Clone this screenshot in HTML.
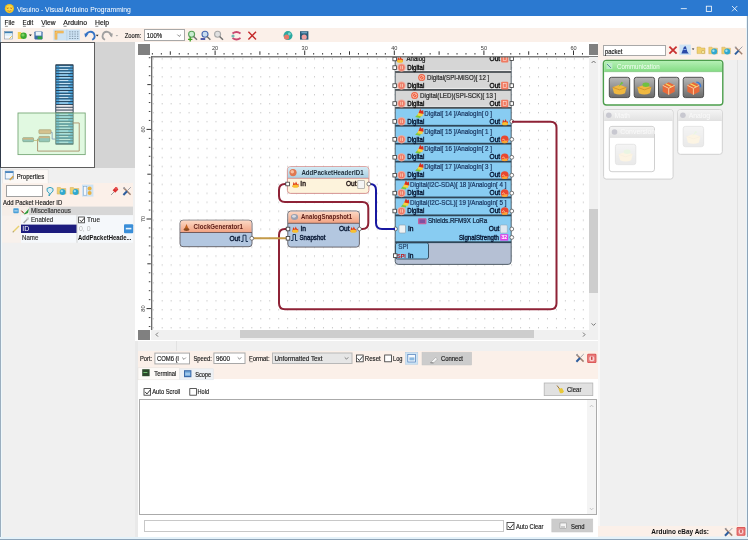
<!DOCTYPE html>
<html><head><meta charset="utf-8">
<style>
*{margin:0;padding:0;box-sizing:border-box}
svg{will-change:transform}
html,body{width:748px;height:540px;overflow:hidden;background:#f0f0f0;font-family:"Liberation Sans",sans-serif;color:#000}
.a{position:absolute}
.t{position:absolute;white-space:nowrap;line-height:1}
</style></head><body>
<!-- window border -->
<div class="a" style="left:0;top:0;width:748px;height:540px;background:#f0f0f0"></div>

<!-- title bar -->
<div class="a" style="left:0;top:0;width:748px;height:16.4px;background:#2b79d0"></div>

<!-- menu bar -->
<div class="a" style="left:1px;top:16.4px;width:745px;height:11.6px;background:#fff"></div>

<!-- toolbar -->
<div class="a" style="left:1px;top:28px;width:745px;height:14px;background:#fbf0e9"></div>
<div class="a" style="left:144.2px;top:29.3px;width:40.6px;height:12.1px;background:#fff;border:1px solid #a8a8a8"></div>

<!-- left panel -->
<div class="a" style="left:0;top:42px;width:95px;height:126px;background:#fff;border:1px solid #5e5e5e;border-left-color:#2e3848"></div>
<div class="a" style="left:95px;top:42px;width:40px;height:126px;background:#d4d4d4"></div>

<!-- properties -->
<div class="a" style="left:2px;top:183px;width:131px;height:24px;background:#fbf0e9"></div>
<div class="a" style="left:6px;top:185.2px;width:37px;height:11.5px;background:#fff;border:1px solid #a0a0a0"></div>

<!-- canvas area -->
<div class="a" style="left:135px;top:42px;width:463px;height:299px;background:#fff"></div>
<div class="a" style="left:137.5px;top:44px;width:12.5px;height:10.5px;background:#808080"></div>
<div class="a" style="left:137.5px;top:330px;width:12.5px;height:10px;background:#808080"></div>
<div class="a" style="left:588.5px;top:44px;width:10.5px;height:10.5px;background:#808080"></div>
<svg width="0" height="0" style="position:absolute"><defs>
<linearGradient id="hdrblue" x1="0" y1="0" x2="0" y2="1"><stop offset="0" stop-color="#d4eaf4"/><stop offset="1" stop-color="#a8d0e4"/></linearGradient>
<linearGradient id="grnhdr" x1="0" y1="0" x2="0" y2="1"><stop offset="0" stop-color="#b4f0b4"/><stop offset="1" stop-color="#84dc84"/></linearGradient>
<linearGradient id="grayhdr" x1="0" y1="0" x2="0" y2="1"><stop offset="0" stop-color="#f4f4f4"/><stop offset="1" stop-color="#e2e2e2"/></linearGradient>
<linearGradient id="tilebg" x1="0" y1="0" x2="0" y2="1"><stop offset="0" stop-color="#b8b8b8"/><stop offset="1" stop-color="#6a6a6a"/></linearGradient>
<linearGradient id="hdrsal" x1="0" y1="0" x2="0" y2="1"><stop offset="0" stop-color="#fcd8c4"/><stop offset="1" stop-color="#f2a282"/></linearGradient>
</defs></svg>
<svg class="a" style="left:0;top:0" width="748" height="540" viewBox="0 0 748 540" font-family="Liberation Sans, sans-serif">
<defs>
<clipPath id="cv"><rect x="152" y="57" width="437" height="273"/></clipPath>
<pattern id="gd" patternUnits="userSpaceOnUse" x="161.7" y="58.2" width="8.96" height="8.96"><rect x="0" y="0" width="1" height="1.4" fill="#cacaca"/></pattern>
</defs>
<rect x="152" y="57" width="437" height="273" fill="url(#gd)"/>
<rect x="151.88" y="53" width="1" height="1.6" fill="#444"/>
<rect x="160.84" y="53" width="1" height="1.6" fill="#444"/>
<rect x="169.80" y="51.3" width="1" height="3.5" fill="#333"/>
<rect x="178.76" y="53" width="1" height="1.6" fill="#444"/>
<rect x="187.72" y="53" width="1" height="1.6" fill="#444"/>
<rect x="196.68" y="53" width="1" height="1.6" fill="#444"/>
<rect x="205.64" y="53" width="1" height="1.6" fill="#444"/>
<rect x="214.60" y="50.5" width="1" height="4.5" fill="#333"/>
<text x="215.10" y="49.8" font-size="5.6" text-anchor="middle" fill="#3a3a3a">20</text>
<rect x="223.56" y="53" width="1" height="1.6" fill="#444"/>
<rect x="232.52" y="53" width="1" height="1.6" fill="#444"/>
<rect x="241.48" y="53" width="1" height="1.6" fill="#444"/>
<rect x="250.44" y="53" width="1" height="1.6" fill="#444"/>
<rect x="259.40" y="51.3" width="1" height="3.5" fill="#333"/>
<rect x="268.36" y="53" width="1" height="1.6" fill="#444"/>
<rect x="277.32" y="53" width="1" height="1.6" fill="#444"/>
<rect x="286.28" y="53" width="1" height="1.6" fill="#444"/>
<rect x="295.24" y="53" width="1" height="1.6" fill="#444"/>
<rect x="304.20" y="50.5" width="1" height="4.5" fill="#333"/>
<text x="304.70" y="49.8" font-size="5.6" text-anchor="middle" fill="#3a3a3a">30</text>
<rect x="313.16" y="53" width="1" height="1.6" fill="#444"/>
<rect x="322.12" y="53" width="1" height="1.6" fill="#444"/>
<rect x="331.08" y="53" width="1" height="1.6" fill="#444"/>
<rect x="340.04" y="53" width="1" height="1.6" fill="#444"/>
<rect x="349.00" y="51.3" width="1" height="3.5" fill="#333"/>
<rect x="357.96" y="53" width="1" height="1.6" fill="#444"/>
<rect x="366.92" y="53" width="1" height="1.6" fill="#444"/>
<rect x="375.88" y="53" width="1" height="1.6" fill="#444"/>
<rect x="384.84" y="53" width="1" height="1.6" fill="#444"/>
<rect x="393.80" y="50.5" width="1" height="4.5" fill="#333"/>
<text x="394.30" y="49.8" font-size="5.6" text-anchor="middle" fill="#3a3a3a">40</text>
<rect x="402.76" y="53" width="1" height="1.6" fill="#444"/>
<rect x="411.72" y="53" width="1" height="1.6" fill="#444"/>
<rect x="420.68" y="53" width="1" height="1.6" fill="#444"/>
<rect x="429.64" y="53" width="1" height="1.6" fill="#444"/>
<rect x="438.60" y="51.3" width="1" height="3.5" fill="#333"/>
<rect x="447.56" y="53" width="1" height="1.6" fill="#444"/>
<rect x="456.52" y="53" width="1" height="1.6" fill="#444"/>
<rect x="465.48" y="53" width="1" height="1.6" fill="#444"/>
<rect x="474.44" y="53" width="1" height="1.6" fill="#444"/>
<rect x="483.40" y="50.5" width="1" height="4.5" fill="#333"/>
<text x="483.90" y="49.8" font-size="5.6" text-anchor="middle" fill="#3a3a3a">50</text>
<rect x="492.36" y="53" width="1" height="1.6" fill="#444"/>
<rect x="501.32" y="53" width="1" height="1.6" fill="#444"/>
<rect x="510.28" y="53" width="1" height="1.6" fill="#444"/>
<rect x="519.24" y="53" width="1" height="1.6" fill="#444"/>
<rect x="528.20" y="51.3" width="1" height="3.5" fill="#333"/>
<rect x="537.16" y="53" width="1" height="1.6" fill="#444"/>
<rect x="546.12" y="53" width="1" height="1.6" fill="#444"/>
<rect x="555.08" y="53" width="1" height="1.6" fill="#444"/>
<rect x="564.04" y="53" width="1" height="1.6" fill="#444"/>
<rect x="573.00" y="50.5" width="1" height="4.5" fill="#333"/>
<text x="573.50" y="49.8" font-size="5.6" text-anchor="middle" fill="#3a3a3a">60</text>
<rect x="581.96" y="53" width="1" height="1.6" fill="#444"/>
<rect x="148.8" y="57.22" width="1.6" height="1" fill="#444"/>
<rect x="148.8" y="66.18" width="1.6" height="1" fill="#444"/>
<rect x="148.8" y="75.14" width="1.6" height="1" fill="#444"/>
<rect x="147.3" y="84.10" width="3.5" height="1" fill="#333"/>
<rect x="148.8" y="93.06" width="1.6" height="1" fill="#444"/>
<rect x="148.8" y="102.02" width="1.6" height="1" fill="#444"/>
<rect x="148.8" y="110.98" width="1.6" height="1" fill="#444"/>
<rect x="148.8" y="119.94" width="1.6" height="1" fill="#444"/>
<rect x="146.5" y="128.90" width="4.5" height="1" fill="#333"/>
<text transform="translate(145,129.40) rotate(-90)" x="0" y="0" font-size="5.6" text-anchor="middle" fill="#3a3a3a">60</text>
<rect x="148.8" y="137.86" width="1.6" height="1" fill="#444"/>
<rect x="148.8" y="146.82" width="1.6" height="1" fill="#444"/>
<rect x="148.8" y="155.78" width="1.6" height="1" fill="#444"/>
<rect x="148.8" y="164.74" width="1.6" height="1" fill="#444"/>
<rect x="147.3" y="173.70" width="3.5" height="1" fill="#333"/>
<rect x="148.8" y="182.66" width="1.6" height="1" fill="#444"/>
<rect x="148.8" y="191.62" width="1.6" height="1" fill="#444"/>
<rect x="148.8" y="200.58" width="1.6" height="1" fill="#444"/>
<rect x="148.8" y="209.54" width="1.6" height="1" fill="#444"/>
<rect x="146.5" y="218.50" width="4.5" height="1" fill="#333"/>
<text transform="translate(145,219.00) rotate(-90)" x="0" y="0" font-size="5.6" text-anchor="middle" fill="#3a3a3a">70</text>
<rect x="148.8" y="227.46" width="1.6" height="1" fill="#444"/>
<rect x="148.8" y="236.42" width="1.6" height="1" fill="#444"/>
<rect x="148.8" y="245.38" width="1.6" height="1" fill="#444"/>
<rect x="148.8" y="254.34" width="1.6" height="1" fill="#444"/>
<rect x="147.3" y="263.30" width="3.5" height="1" fill="#333"/>
<rect x="148.8" y="272.26" width="1.6" height="1" fill="#444"/>
<rect x="148.8" y="281.22" width="1.6" height="1" fill="#444"/>
<rect x="148.8" y="290.18" width="1.6" height="1" fill="#444"/>
<rect x="148.8" y="299.14" width="1.6" height="1" fill="#444"/>
<rect x="146.5" y="308.10" width="4.5" height="1" fill="#333"/>
<text transform="translate(145,308.60) rotate(-90)" x="0" y="0" font-size="5.6" text-anchor="middle" fill="#3a3a3a">80</text>
<rect x="148.8" y="317.06" width="1.6" height="1" fill="#444"/>
<rect x="148.8" y="326.02" width="1.6" height="1" fill="#444"/>
<g clip-path="url(#cv)">
<rect x="395.2" y="20" width="116.0" height="52.0" fill="#d6d6d6"/>
<rect x="395.2" y="72.00" width="116.0" height="17.92" fill="#d6d6d6"/>
<rect x="395.2" y="89.92" width="116.0" height="17.92" fill="#d6d6d6"/>
<rect x="395.2" y="107.84" width="116.0" height="17.92" fill="#88ccf2"/>
<rect x="395.2" y="125.76" width="116.0" height="17.92" fill="#88ccf2"/>
<rect x="395.2" y="143.68" width="116.0" height="17.92" fill="#88ccf2"/>
<rect x="395.2" y="161.60" width="116.0" height="17.92" fill="#88ccf2"/>
<rect x="395.2" y="179.52" width="116.0" height="17.92" fill="#88ccf2"/>
<rect x="395.2" y="197.44" width="116.0" height="17.92" fill="#88ccf2"/>
<rect x="395.2" y="215.36" width="116.0" height="26.84" fill="#88ccf2"/>
<path d="M395.2,242.2 H511.2 V261.4 q0,3 -3,3 H398.2 q-3,0 -3,-3 Z" fill="#b5c0d4"/>
<rect x="395.5" y="242.8" width="33" height="16.2" rx="2" fill="#88ccf2" stroke="#2f4658" stroke-width="0.9"/>
<path d="M395.2,20 V261.4 q0,3 3,3 H508.2 q3,0 3,-3 V20" fill="none" stroke="#46525c" stroke-width="0.9"/>
<rect x="395.2" y="70.00" width="116.0" height="1" fill="#ececec"/>
<rect x="395.2" y="71.10" width="116.0" height="1.8" fill="#4c5256"/>
<rect x="395.2" y="87.92" width="116.0" height="1" fill="#ececec"/>
<rect x="395.2" y="89.02" width="116.0" height="1.8" fill="#4c5256"/>
<rect x="395.2" y="105.84" width="116.0" height="1" fill="#ececec"/>
<rect x="395.2" y="106.94" width="116.0" height="1.8" fill="#4c5256"/>
<rect x="395.2" y="124.86" width="116.0" height="1.8" fill="#2f4658"/>
<rect x="395.2" y="142.78" width="116.0" height="1.8" fill="#2f4658"/>
<rect x="395.2" y="160.70" width="116.0" height="1.8" fill="#2f4658"/>
<rect x="395.2" y="178.62" width="116.0" height="1.8" fill="#2f4658"/>
<rect x="395.2" y="196.54" width="116.0" height="1.8" fill="#2f4658"/>
<rect x="395.2" y="214.46" width="116.0" height="1.8" fill="#2f4658"/>
<rect x="395.2" y="241.3" width="116.0" height="1.8" fill="#2f4658"/>
<path d="M397.00,62.00 l1,-5 l1.5,2 l1,-2.5 l1.5,3 l1,-1 l0,3.5 z" fill="#e03818"/><ellipse cx="400.00" cy="61.20" rx="3" ry="1.6" fill="#f8c030"/>
<text x="406.50" y="61.30" font-size="7.0" fill="#141414" stroke="#141414" stroke-width="0.22" text-anchor="start" font-weight="normal"  textLength="19.0" lengthAdjust="spacingAndGlyphs">Analog</text>
<text x="500.20" y="60.50" font-size="7.0" fill="#141414" stroke="#141414" stroke-width="0.4" text-anchor="end" font-weight="normal"  textLength="10.6" lengthAdjust="spacingAndGlyphs">Out</text>
<rect x="501.10" y="54.80" width="7.2" height="7.6" rx="1" fill="#f07a60"/><rect x="503.20" y="56.60" width="3" height="4" fill="none" stroke="#fff" stroke-width="0.6" opacity="0.8"/>
<rect x="392.90" y="57.20" width="3.6" height="3.6" fill="#fff" stroke="#383838" stroke-width="0.8"/>
<rect x="510.00" y="56.80" width="3.6" height="3.6" fill="#fff" stroke="#383838" stroke-width="0.8"/>
<circle cx="401.50" cy="67.60" r="4.1" fill="#f2a898"/><circle cx="401.50" cy="67.60" r="3.1" fill="#ec7866"/><rect x="400.20" y="65.80" width="1" height="3.4" fill="#f8c0a8"/><rect x="402.00" y="65.80" width="1" height="3.4" fill="#f8c0a8"/>
<text x="407.30" y="69.80" font-size="7.0" fill="#141414" stroke="#141414" stroke-width="0.4" text-anchor="start" font-weight="normal"  textLength="17.0" lengthAdjust="spacingAndGlyphs">Digital</text>
<rect x="392.90" y="65.80" width="3.6" height="3.6" fill="#fff" stroke="#383838" stroke-width="0.8"/>
<circle cx="421.69" cy="77.60" r="3.5" fill="#f06040"/><circle cx="421.69" cy="77.60" r="2.2" fill="none" stroke="#fbd0c0" stroke-width="0.7"/><line x1="420.19" y1="79.10" x2="423.19" y2="76.10" stroke="#fbd0c0" stroke-width="0.7"/>
<text x="427.09" y="79.80" font-size="7.0" fill="#2e2e2e" stroke="#2e2e2e" stroke-width="0.22" text-anchor="start" font-weight="normal" textLength="62.2" lengthAdjust="spacingAndGlyphs">Digital(SPI-MISO)[ 12 ]</text>
<circle cx="401.50" cy="85.60" r="4.1" fill="#f2a898"/><circle cx="401.50" cy="85.60" r="3.1" fill="#ec7866"/><rect x="400.20" y="83.80" width="1" height="3.4" fill="#f8c0a8"/><rect x="402.00" y="83.80" width="1" height="3.4" fill="#f8c0a8"/>
<text x="407.30" y="87.80" font-size="7.0" fill="#161616" stroke="#161616" stroke-width="0.4" text-anchor="start" font-weight="normal"  textLength="17.0" lengthAdjust="spacingAndGlyphs">Digital</text>
<text x="500.20" y="87.80" font-size="7.0" fill="#161616" stroke="#161616" stroke-width="0.4" text-anchor="end" font-weight="normal"  textLength="10.6" lengthAdjust="spacingAndGlyphs">Out</text>
<rect x="501.10" y="81.80" width="7.2" height="7.6" rx="1" fill="#f07a60"/><rect x="503.20" y="83.60" width="3" height="4" fill="none" stroke="#fff" stroke-width="0.6" opacity="0.8"/>
<rect x="392.90" y="83.80" width="3.6" height="3.6" fill="#fff" stroke="#383838" stroke-width="0.8"/>
<rect x="510.00" y="83.80" width="3.6" height="3.6" fill="#fff" stroke="#383838" stroke-width="0.8"/>
<circle cx="414.65" cy="95.52" r="3.5" fill="#f06040"/><circle cx="414.65" cy="95.52" r="2.2" fill="none" stroke="#fbd0c0" stroke-width="0.7"/><line x1="413.15" y1="97.02" x2="416.15" y2="94.02" stroke="#fbd0c0" stroke-width="0.7"/>
<text x="420.05" y="97.72" font-size="7.0" fill="#2e2e2e" stroke="#2e2e2e" stroke-width="0.22" text-anchor="start" font-weight="normal" textLength="76.3" lengthAdjust="spacingAndGlyphs">Digital(LED)(SPI-SCK)[ 13 ]</text>
<circle cx="401.50" cy="103.52" r="4.1" fill="#f2a898"/><circle cx="401.50" cy="103.52" r="3.1" fill="#ec7866"/><rect x="400.20" y="101.72" width="1" height="3.4" fill="#f8c0a8"/><rect x="402.00" y="101.72" width="1" height="3.4" fill="#f8c0a8"/>
<text x="407.30" y="105.72" font-size="7.0" fill="#161616" stroke="#161616" stroke-width="0.4" text-anchor="start" font-weight="normal"  textLength="17.0" lengthAdjust="spacingAndGlyphs">Digital</text>
<text x="500.20" y="105.72" font-size="7.0" fill="#161616" stroke="#161616" stroke-width="0.4" text-anchor="end" font-weight="normal"  textLength="10.6" lengthAdjust="spacingAndGlyphs">Out</text>
<rect x="501.10" y="99.72" width="7.2" height="7.6" rx="1" fill="#f07a60"/><rect x="503.20" y="101.52" width="3" height="4" fill="none" stroke="#fff" stroke-width="0.6" opacity="0.8"/>
<rect x="392.90" y="101.72" width="3.6" height="3.6" fill="#fff" stroke="#383838" stroke-width="0.8"/>
<rect x="510.00" y="101.72" width="3.6" height="3.6" fill="#fff" stroke="#383838" stroke-width="0.8"/>
<path d="M415.14,116.94 l3,-3 l3,1 l-1,3 z" fill="#7cc83c"/><path d="M417.14,115.44 l2,-4 l4,2 l-1,3 z" fill="#f8d040"/><path d="M418.64,112.94 l1.5,-4 l1.5,2 l1.5,-1 l0.5,4 z" fill="#d83020"/>
<text x="424.34" y="115.64" font-size="7.0" fill="#1c3862" stroke="#1c3862" stroke-width="0.22" text-anchor="start" font-weight="normal" textLength="67.7" lengthAdjust="spacingAndGlyphs">Digital[ 14 ]/AnalogIn[ 0 ]</text>
<circle cx="401.50" cy="121.44" r="4.1" fill="#f2a898"/><circle cx="401.50" cy="121.44" r="3.1" fill="#ec7866"/><rect x="400.20" y="119.64" width="1" height="3.4" fill="#f8c0a8"/><rect x="402.00" y="119.64" width="1" height="3.4" fill="#f8c0a8"/>
<text x="407.30" y="123.64" font-size="7.0" fill="#0a1a36" stroke="#0a1a36" stroke-width="0.4" text-anchor="start" font-weight="normal"  textLength="17.0" lengthAdjust="spacingAndGlyphs">Digital</text>
<text x="500.20" y="123.64" font-size="7.0" fill="#0a1a36" stroke="#0a1a36" stroke-width="0.4" text-anchor="end" font-weight="normal"  textLength="10.6" lengthAdjust="spacingAndGlyphs">Out</text>
<path d="M502.00,124.44 l1,-5 l1.5,2 l1,-2.5 l1.5,3 l1,-1 l0,3.5 z" fill="#e03818"/><ellipse cx="505.00" cy="123.64" rx="3" ry="1.6" fill="#f8c030"/>
<rect x="392.90" y="119.64" width="3.6" height="3.6" fill="#fff" stroke="#383838" stroke-width="0.8"/>
<circle cx="511.80" cy="121.44" r="1.9" fill="#fff" stroke="#4a4a4a" stroke-width="0.7"/>
<path d="M415.14,134.86 l3,-3 l3,1 l-1,3 z" fill="#7cc83c"/><path d="M417.14,133.36 l2,-4 l4,2 l-1,3 z" fill="#f8d040"/><path d="M418.64,130.86 l1.5,-4 l1.5,2 l1.5,-1 l0.5,4 z" fill="#d83020"/>
<text x="424.34" y="133.56" font-size="7.0" fill="#1c3862" stroke="#1c3862" stroke-width="0.22" text-anchor="start" font-weight="normal" textLength="67.7" lengthAdjust="spacingAndGlyphs">Digital[ 15 ]/AnalogIn[ 1 ]</text>
<circle cx="401.50" cy="139.36" r="4.1" fill="#f2a898"/><circle cx="401.50" cy="139.36" r="3.1" fill="#ec7866"/><rect x="400.20" y="137.56" width="1" height="3.4" fill="#f8c0a8"/><rect x="402.00" y="137.56" width="1" height="3.4" fill="#f8c0a8"/>
<text x="407.30" y="141.56" font-size="7.0" fill="#0a1a36" stroke="#0a1a36" stroke-width="0.4" text-anchor="start" font-weight="normal"  textLength="17.0" lengthAdjust="spacingAndGlyphs">Digital</text>
<text x="500.20" y="141.56" font-size="7.0" fill="#0a1a36" stroke="#0a1a36" stroke-width="0.4" text-anchor="end" font-weight="normal"  textLength="10.6" lengthAdjust="spacingAndGlyphs">Out</text>
<circle cx="504.70" cy="139.36" r="3.9" fill="#e84830"/><path d="M502.20,140.36 q1.2,-3 2.5,0 t2.5,0" fill="none" stroke="#ffd0a0" stroke-width="0.8"/><ellipse cx="504.70" cy="141.96" rx="3" ry="1.2" fill="#f8b030" opacity="0.9"/>
<rect x="392.90" y="137.56" width="3.6" height="3.6" fill="#fff" stroke="#383838" stroke-width="0.8"/>
<circle cx="511.80" cy="139.36" r="1.9" fill="#fff" stroke="#4a4a4a" stroke-width="0.7"/>
<path d="M415.14,152.78 l3,-3 l3,1 l-1,3 z" fill="#7cc83c"/><path d="M417.14,151.28 l2,-4 l4,2 l-1,3 z" fill="#f8d040"/><path d="M418.64,148.78 l1.5,-4 l1.5,2 l1.5,-1 l0.5,4 z" fill="#d83020"/>
<text x="424.34" y="151.48" font-size="7.0" fill="#1c3862" stroke="#1c3862" stroke-width="0.22" text-anchor="start" font-weight="normal" textLength="67.7" lengthAdjust="spacingAndGlyphs">Digital[ 16 ]/AnalogIn[ 2 ]</text>
<circle cx="401.50" cy="157.28" r="4.1" fill="#f2a898"/><circle cx="401.50" cy="157.28" r="3.1" fill="#ec7866"/><rect x="400.20" y="155.48" width="1" height="3.4" fill="#f8c0a8"/><rect x="402.00" y="155.48" width="1" height="3.4" fill="#f8c0a8"/>
<text x="407.30" y="159.48" font-size="7.0" fill="#0a1a36" stroke="#0a1a36" stroke-width="0.4" text-anchor="start" font-weight="normal"  textLength="17.0" lengthAdjust="spacingAndGlyphs">Digital</text>
<text x="500.20" y="159.48" font-size="7.0" fill="#0a1a36" stroke="#0a1a36" stroke-width="0.4" text-anchor="end" font-weight="normal"  textLength="10.6" lengthAdjust="spacingAndGlyphs">Out</text>
<circle cx="504.70" cy="157.28" r="3.9" fill="#e84830"/><path d="M502.20,158.28 q1.2,-3 2.5,0 t2.5,0" fill="none" stroke="#ffd0a0" stroke-width="0.8"/><ellipse cx="504.70" cy="159.88" rx="3" ry="1.2" fill="#f8b030" opacity="0.9"/>
<rect x="392.90" y="155.48" width="3.6" height="3.6" fill="#fff" stroke="#383838" stroke-width="0.8"/>
<circle cx="511.80" cy="157.28" r="1.9" fill="#fff" stroke="#4a4a4a" stroke-width="0.7"/>
<path d="M415.14,170.70 l3,-3 l3,1 l-1,3 z" fill="#7cc83c"/><path d="M417.14,169.20 l2,-4 l4,2 l-1,3 z" fill="#f8d040"/><path d="M418.64,166.70 l1.5,-4 l1.5,2 l1.5,-1 l0.5,4 z" fill="#d83020"/>
<text x="424.34" y="169.40" font-size="7.0" fill="#1c3862" stroke="#1c3862" stroke-width="0.22" text-anchor="start" font-weight="normal" textLength="67.7" lengthAdjust="spacingAndGlyphs">Digital[ 17 ]/AnalogIn[ 3 ]</text>
<circle cx="401.50" cy="175.20" r="4.1" fill="#f2a898"/><circle cx="401.50" cy="175.20" r="3.1" fill="#ec7866"/><rect x="400.20" y="173.40" width="1" height="3.4" fill="#f8c0a8"/><rect x="402.00" y="173.40" width="1" height="3.4" fill="#f8c0a8"/>
<text x="407.30" y="177.40" font-size="7.0" fill="#0a1a36" stroke="#0a1a36" stroke-width="0.4" text-anchor="start" font-weight="normal"  textLength="17.0" lengthAdjust="spacingAndGlyphs">Digital</text>
<text x="500.20" y="177.40" font-size="7.0" fill="#0a1a36" stroke="#0a1a36" stroke-width="0.4" text-anchor="end" font-weight="normal"  textLength="10.6" lengthAdjust="spacingAndGlyphs">Out</text>
<circle cx="504.70" cy="175.20" r="3.9" fill="#e84830"/><path d="M502.20,176.20 q1.2,-3 2.5,0 t2.5,0" fill="none" stroke="#ffd0a0" stroke-width="0.8"/><ellipse cx="504.70" cy="177.80" rx="3" ry="1.2" fill="#f8b030" opacity="0.9"/>
<rect x="392.90" y="173.40" width="3.6" height="3.6" fill="#fff" stroke="#383838" stroke-width="0.8"/>
<circle cx="511.80" cy="175.20" r="1.9" fill="#fff" stroke="#4a4a4a" stroke-width="0.7"/>
<path d="M400.81,188.62 l3,-3 l3,1 l-1,3 z" fill="#7cc83c"/><path d="M402.81,187.12 l2,-4 l4,2 l-1,3 z" fill="#f8d040"/><path d="M404.31,184.62 l1.5,-4 l1.5,2 l1.5,-1 l0.5,4 z" fill="#d83020"/>
<text x="410.00" y="187.32" font-size="7.0" fill="#1c3862" stroke="#1c3862" stroke-width="0.22" text-anchor="start" font-weight="normal" textLength="96.4" lengthAdjust="spacingAndGlyphs">Digital(I2C-SDA)[ 18 ]/AnalogIn[ 4 ]</text>
<circle cx="401.50" cy="193.12" r="4.1" fill="#f2a898"/><circle cx="401.50" cy="193.12" r="3.1" fill="#ec7866"/><rect x="400.20" y="191.32" width="1" height="3.4" fill="#f8c0a8"/><rect x="402.00" y="191.32" width="1" height="3.4" fill="#f8c0a8"/>
<text x="407.30" y="195.32" font-size="7.0" fill="#0a1a36" stroke="#0a1a36" stroke-width="0.4" text-anchor="start" font-weight="normal"  textLength="17.0" lengthAdjust="spacingAndGlyphs">Digital</text>
<text x="500.20" y="195.32" font-size="7.0" fill="#0a1a36" stroke="#0a1a36" stroke-width="0.4" text-anchor="end" font-weight="normal"  textLength="10.6" lengthAdjust="spacingAndGlyphs">Out</text>
<circle cx="504.70" cy="193.12" r="3.9" fill="#e84830"/><path d="M502.20,194.12 q1.2,-3 2.5,0 t2.5,0" fill="none" stroke="#ffd0a0" stroke-width="0.8"/><ellipse cx="504.70" cy="195.72" rx="3" ry="1.2" fill="#f8b030" opacity="0.9"/>
<rect x="392.90" y="191.32" width="3.6" height="3.6" fill="#fff" stroke="#383838" stroke-width="0.8"/>
<circle cx="511.80" cy="193.12" r="1.9" fill="#fff" stroke="#4a4a4a" stroke-width="0.7"/>
<path d="M400.81,206.54 l3,-3 l3,1 l-1,3 z" fill="#7cc83c"/><path d="M402.81,205.04 l2,-4 l4,2 l-1,3 z" fill="#f8d040"/><path d="M404.31,202.54 l1.5,-4 l1.5,2 l1.5,-1 l0.5,4 z" fill="#d83020"/>
<text x="410.00" y="205.24" font-size="7.0" fill="#1c3862" stroke="#1c3862" stroke-width="0.22" text-anchor="start" font-weight="normal" textLength="96.4" lengthAdjust="spacingAndGlyphs">Digital(I2C-SCL)[ 19 ]/AnalogIn[ 5 ]</text>
<circle cx="401.50" cy="211.04" r="4.1" fill="#f2a898"/><circle cx="401.50" cy="211.04" r="3.1" fill="#ec7866"/><rect x="400.20" y="209.24" width="1" height="3.4" fill="#f8c0a8"/><rect x="402.00" y="209.24" width="1" height="3.4" fill="#f8c0a8"/>
<text x="407.30" y="213.24" font-size="7.0" fill="#0a1a36" stroke="#0a1a36" stroke-width="0.4" text-anchor="start" font-weight="normal"  textLength="17.0" lengthAdjust="spacingAndGlyphs">Digital</text>
<text x="500.20" y="213.24" font-size="7.0" fill="#0a1a36" stroke="#0a1a36" stroke-width="0.4" text-anchor="end" font-weight="normal"  textLength="10.6" lengthAdjust="spacingAndGlyphs">Out</text>
<circle cx="504.70" cy="211.04" r="3.9" fill="#e84830"/><path d="M502.20,212.04 q1.2,-3 2.5,0 t2.5,0" fill="none" stroke="#ffd0a0" stroke-width="0.8"/><ellipse cx="504.70" cy="213.64" rx="3" ry="1.2" fill="#f8b030" opacity="0.9"/>
<rect x="392.90" y="209.24" width="3.6" height="3.6" fill="#fff" stroke="#383838" stroke-width="0.8"/>
<circle cx="511.80" cy="211.04" r="1.9" fill="#fff" stroke="#4a4a4a" stroke-width="0.7"/>
<rect x="418" y="218.3" width="8.5" height="6" rx="1" fill="#c060a0"/><rect x="419.5" y="219.5" width="5.5" height="3.5" fill="#8050a0"/>
<text x="428.00" y="222.80" font-size="7.0" fill="#0a1a36" stroke="#0a1a36" stroke-width="0.22" text-anchor="start" font-weight="normal" textLength="59.2" lengthAdjust="spacingAndGlyphs">Shields.RFM9X LoRa</text>
<rect x="399" y="225" width="6.5" height="8" rx="1" fill="#eef2f4" stroke="#8a9aa8" stroke-width="0.6"/>
<text x="408.00" y="231.10" font-size="7.0" fill="#0a1a36" stroke="#0a1a36" stroke-width="0.4" text-anchor="start" font-weight="normal"  textLength="5.6" lengthAdjust="spacingAndGlyphs">In</text>
<circle cx="395.50" cy="228.90" r="1.9" fill="#fff" stroke="#4a4a4a" stroke-width="0.7"/>
<text x="499.40" y="231.20" font-size="7.0" fill="#0a1a36" stroke="#0a1a36" stroke-width="0.4" text-anchor="end" font-weight="normal"  textLength="10.6" lengthAdjust="spacingAndGlyphs">Out</text>
<rect x="500.3" y="225" width="7" height="8" rx="1" fill="#dfe8f0" stroke="#8aa0b0" stroke-width="0.5"/>
<circle cx="511.80" cy="229.00" r="1.9" fill="#fff" stroke="#4a4a4a" stroke-width="0.7"/>
<text x="499.00" y="239.60" font-size="7.0" fill="#0a1a36" stroke="#0a1a36" stroke-width="0.4" text-anchor="end" font-weight="normal" textLength="40" lengthAdjust="spacingAndGlyphs">SignalStrength</text>
<rect x="500.2" y="234.2" width="8" height="6.4" fill="#e040e8"/>
<text x="504.20" y="239.20" font-size="5" fill="#fff" stroke="#fff" stroke-width="0.22" text-anchor="middle" font-weight="normal" >32</text>
<circle cx="511.80" cy="237.40" r="1.9" fill="#fff" stroke="#4a4a4a" stroke-width="0.7"/>
<text x="398.20" y="248.60" font-size="6.3" fill="#2a4a70" stroke="#2a4a70" stroke-width="0.22" text-anchor="start" font-weight="normal" >SPI</text>
<text x="397.00" y="257.60" font-size="5.5" fill="#c01010" text-anchor="start" font-weight="bold" >SPI</text>
<text x="408.00" y="257.80" font-size="7.0" fill="#0a1a36" stroke="#0a1a36" stroke-width="0.4" text-anchor="start" font-weight="normal"  textLength="5.6" lengthAdjust="spacingAndGlyphs">In</text>
<rect x="393.40" y="253.80" width="3.6" height="3.6" fill="#fff" stroke="#383838" stroke-width="0.8"/>
<path d="M512,121.7 H550.5 q6,0 6,6 V303.3 q0,6 -6,6 H285 q-6,0 -6,-6 V235 q0,-6 6,-6 H288" fill="none" stroke="#8e2236" stroke-width="2" stroke-linejoin="round"/>
<path d="M359.6,229 H362.5 q5.8,0 5.8,-6 V208 q0,-6 -6,-6 H285 q-6,0 -6,-6 V190 q0,-6 6,-6 H287.5" fill="none" stroke="#8e2236" stroke-width="2" stroke-linejoin="round"/>
<path d="M368.9,184 H370 q6,0 6,6 V223 q0,6 6,6 H395" fill="none" stroke="#1818a0" stroke-width="2" stroke-linejoin="round"/>
<path d="M252,238.3 H288" fill="none" stroke="#c49a48" stroke-width="2" stroke-linejoin="round"/>
<rect x="287.4" y="166.7" width="81.5" height="26.700000000000017" rx="3" fill="#fdf3dc" stroke="#d08888" stroke-width="0.9"/>
<path d="M287.9,169.7 q0,-2.6 2.6,-2.6 H365.79999999999995 q2.6,0 2.6,2.6 V178 H287.9 Z" fill="url(#hdrblue)"/>
<rect x="287.4" y="177.8" width="81.5" height="0.9" fill="#d08888"/>
<circle cx="293" cy="172.6" r="3.6" fill="#e07850"/><circle cx="292.3" cy="171.8" r="1.8" fill="#f8c0a0"/>
<text x="301.40" y="174.90" font-size="7" fill="#23323f" text-anchor="start" font-weight="bold" textLength="62.2" lengthAdjust="spacingAndGlyphs">AddPacketHeaderID1</text>
<path d="M292.50,187.00 l1,-5 l1.5,2 l1,-2.5 l1.5,3 l1,-1 l0,3.5 z" fill="#e03818"/><ellipse cx="295.50" cy="186.20" rx="3" ry="1.6" fill="#f8c030"/>
<text x="300.30" y="186.30" font-size="7.0" fill="#241818" stroke="#241818" stroke-width="0.4" text-anchor="start" font-weight="normal"  textLength="5.6" lengthAdjust="spacingAndGlyphs">In</text>
<text x="356.50" y="186.30" font-size="7.0" fill="#241818" stroke="#241818" stroke-width="0.4" text-anchor="end" font-weight="normal"  textLength="10.6" lengthAdjust="spacingAndGlyphs">Out</text>
<rect x="357.8" y="180.7" width="6.8" height="7.6" fill="#f4f4f4" stroke="#909090" stroke-width="0.6"/>
<rect x="285.80" y="182.20" width="3.6" height="3.6" fill="#fff" stroke="#383838" stroke-width="0.8"/>
<circle cx="368.80" cy="184.00" r="1.9" fill="#fff" stroke="#4a4a4a" stroke-width="0.7"/>
<rect x="180" y="220.2" width="72" height="26.5" rx="3" fill="#b3c7e0" stroke="#5e5a60" stroke-width="0.9"/>
<path d="M180.5,223.2 q0,-2.6 2.6,-2.6 H248.9 q2.6,0 2.6,2.6 V232.3 H180.5 Z" fill="url(#hdrsal)"/>
<rect x="180" y="232.1" width="72" height="0.9" fill="#6a5050"/>
<path d="M184,230 l2.5,-6 l2.5,6 z" fill="#c0601e"/><ellipse cx="186.5" cy="229.6" rx="3" ry="1.4" fill="#8a4a20"/>
<text x="193.60" y="228.60" font-size="7" fill="#5a1a14" text-anchor="start" font-weight="bold" textLength="49.4" lengthAdjust="spacingAndGlyphs">ClockGenerator1</text>
<text x="240.00" y="240.50" font-size="7.0" fill="#0a1a36" stroke="#0a1a36" stroke-width="0.4" text-anchor="end" font-weight="normal"  textLength="10.6" lengthAdjust="spacingAndGlyphs">Out</text>
<path d="M241,241.5 H243 V235.2 H246 V241.5 H248" fill="none" stroke="#10284a" stroke-width="0.9"/>
<circle cx="251.80" cy="238.30" r="1.9" fill="#fff" stroke="#4a4a4a" stroke-width="0.7"/>
<rect x="287.8" y="211" width="71.59999999999997" height="36.099999999999994" rx="3" fill="#b3c7e0" stroke="#5e5a60" stroke-width="0.9"/>
<path d="M288.3,214 q0,-2.6 2.6,-2.6 H356.29999999999995 q2.6,0 2.6,2.6 V223 H288.3 Z" fill="url(#hdrsal)"/>
<rect x="287.8" y="222.8" width="71.59999999999997" height="0.9" fill="#6a5050"/>
<ellipse cx="294.5" cy="217" rx="3.6" ry="3" fill="#9aa0b0"/><ellipse cx="294" cy="216.3" rx="2" ry="1.4" fill="#d8dce4"/>
<text x="301.00" y="219.40" font-size="7" fill="#5a1a14" text-anchor="start" font-weight="bold" textLength="51.2" lengthAdjust="spacingAndGlyphs">AnalogSnapshot1</text>
<path d="M292.20,232.00 l1,-5 l1.5,2 l1,-2.5 l1.5,3 l1,-1 l0,3.5 z" fill="#e03818"/><ellipse cx="295.20" cy="231.20" rx="3" ry="1.6" fill="#f8c030"/>
<text x="300.50" y="231.30" font-size="7.0" fill="#0a1a36" stroke="#0a1a36" stroke-width="0.4" text-anchor="start" font-weight="normal"  textLength="5.6" lengthAdjust="spacingAndGlyphs">In</text>
<path d="M291,240.5 H293 V234.5 H295.5 V240.5 H297.5" fill="none" stroke="#10284a" stroke-width="0.9"/>
<text x="299.50" y="239.80" font-size="7.0" fill="#0a1a36" stroke="#0a1a36" stroke-width="0.4" text-anchor="start" font-weight="normal"  textLength="26.0" lengthAdjust="spacingAndGlyphs">Snapshot</text>
<text x="349.60" y="231.30" font-size="7.0" fill="#0a1a36" stroke="#0a1a36" stroke-width="0.4" text-anchor="end" font-weight="normal"  textLength="10.6" lengthAdjust="spacingAndGlyphs">Out</text>
<path d="M350.30,232.00 l1,-5 l1.5,2 l1,-2.5 l1.5,3 l1,-1 l0,3.5 z" fill="#e03818"/><ellipse cx="353.30" cy="231.20" rx="3" ry="1.6" fill="#f8c030"/>
<rect x="286.20" y="227.20" width="3.6" height="3.6" fill="#fff" stroke="#383838" stroke-width="0.8"/>
<rect x="286.20" y="236.50" width="3.6" height="3.6" fill="#fff" stroke="#383838" stroke-width="0.8"/>
<circle cx="359.50" cy="229.00" r="1.9" fill="#fff" stroke="#4a4a4a" stroke-width="0.7"/>
</g>
<rect x="151.1" y="56.2" width="1.2" height="274" fill="#5e5e5e"/>
<rect x="151.1" y="56.2" width="447.4" height="1.2" fill="#5e5e5e"/>
</svg>
<!-- scrollbars -->
<div class="a" style="left:589px;top:57.4px;width:9px;height:272.6px;background:#f0f0f0"></div>
<div class="a" style="left:589px;top:208.7px;width:9px;height:84.5px;background:#cdcdcd"></div>
<div class="a" style="left:151px;top:330px;width:447px;height:10px;background:#f0f0f0"></div>
<div class="a" style="left:239.6px;top:330px;width:294.4px;height:8px;background:#cdcdcd"></div>

<!-- bottom panel -->
<div class="a" style="left:134.5px;top:341px;width:3px;height:196px;background:#e9e9e9"></div>
<div class="a" style="left:176px;top:341px;width:0.8px;height:9.5px;background:#e2e2e2"></div>
<div class="a" style="left:137.5px;top:350.5px;width:460.5px;height:28.5px;background:#fbf0e9"></div>
<div class="a" style="left:137.5px;top:379px;width:460.5px;height:157.8px;background:#fff"></div>
<div class="a" style="left:139px;top:399px;width:458px;height:116px;border:1px solid #aaa;background:#fff"></div>
<div class="a" style="left:144px;top:520px;width:360px;height:12px;border:1px solid #c8c8c8;background:#fff"></div>

<!-- right panel -->
<div class="a" style="left:598px;top:56px;width:2px;height:470px;background:#f8f8f8"></div>
<div class="a" style="left:598px;top:42px;width:148px;height:18px;background:#fbf0e9"></div>
<div class="a" style="left:603px;top:45px;width:63px;height:11px;background:#fff;border:1px solid #a8a8a8"></div>
<div class="a" style="left:737.2px;top:60px;width:0.8px;height:466px;background:#e2e2e2"></div>
<div class="a" style="left:598px;top:526px;width:148px;height:10px;background:#fbf0e9"></div>

<svg class="a" style="left:0;top:0" width="748" height="540" viewBox="0 0 748 540" font-family="Liberation Sans, sans-serif">
<text x="16.90" y="11.70" font-size="7.6" fill="#fff" text-anchor="start" font-weight="normal" textLength="114" lengthAdjust="spacingAndGlyphs" >Visuino - Visual Arduino Programming</text>
<text x="4.60" y="25.20" font-size="7.2" fill="#1a1a1a" stroke="#1a1a1a" stroke-width="0.18" text-anchor="start" font-weight="normal" textLength="10" lengthAdjust="spacingAndGlyphs" >File</text>
<rect x="4.90" y="25.9" width="3" height="0.5" fill="#1a1a1a"/>
<text x="22.60" y="25.20" font-size="7.2" fill="#1a1a1a" stroke="#1a1a1a" stroke-width="0.18" text-anchor="start" font-weight="normal" textLength="10.6" lengthAdjust="spacingAndGlyphs" >Edit</text>
<rect x="22.90" y="25.9" width="3" height="0.5" fill="#1a1a1a"/>
<text x="41.30" y="25.20" font-size="7.2" fill="#1a1a1a" stroke="#1a1a1a" stroke-width="0.18" text-anchor="start" font-weight="normal" textLength="14.3" lengthAdjust="spacingAndGlyphs" >View</text>
<rect x="41.60" y="25.9" width="3" height="0.5" fill="#1a1a1a"/>
<text x="63.30" y="25.20" font-size="7.2" fill="#1a1a1a" stroke="#1a1a1a" stroke-width="0.18" text-anchor="start" font-weight="normal" textLength="23.7" lengthAdjust="spacingAndGlyphs" >Arduino</text>
<rect x="63.60" y="25.9" width="3" height="0.5" fill="#1a1a1a"/>
<text x="95.00" y="25.20" font-size="7.2" fill="#1a1a1a" stroke="#1a1a1a" stroke-width="0.18" text-anchor="start" font-weight="normal" textLength="14" lengthAdjust="spacingAndGlyphs" >Help</text>
<rect x="95.30" y="25.9" width="3" height="0.5" fill="#1a1a1a"/>
<text x="124.70" y="37.90" font-size="7.3" fill="#222" stroke="#222" stroke-width="0.18" text-anchor="start" font-weight="normal" textLength="16.6" lengthAdjust="spacingAndGlyphs" >Zoom:</text>
<text x="146.70" y="37.90" font-size="7.3" fill="#222" stroke="#222" stroke-width="0.18" text-anchor="start" font-weight="normal" textLength="15.4" lengthAdjust="spacingAndGlyphs" >100%</text>
<text x="605.00" y="53.60" font-size="7.3" fill="#111" stroke="#111" stroke-width="0.18" text-anchor="start" font-weight="normal" textLength="17.4" lengthAdjust="spacingAndGlyphs" >packet</text>
<text x="651.30" y="534.20" font-size="7" fill="#111" text-anchor="start" font-weight="bold" textLength="57.7" lengthAdjust="spacingAndGlyphs" >Arduino eBay Ads:</text>
<rect x="55.3" y="64.3" width="18.30" height="80.50" rx="0.8" fill="#22384c"/>
<rect x="56.199999999999996" y="65.70" width="16.50" height="1.9" fill="#4ea6dc"/>
<rect x="59.3" y="66.20" width="11" height="0.8" fill="#f4f8fc" opacity="0.9"/>
<rect x="56.199999999999996" y="68.50" width="16.50" height="1.9" fill="#4ea6dc"/>
<rect x="59.3" y="69.00" width="9" height="0.8" fill="#f4f8fc" opacity="0.9"/>
<rect x="56.199999999999996" y="71.30" width="16.50" height="1.9" fill="#4ea6dc"/>
<rect x="59.3" y="71.80" width="11" height="0.8" fill="#f4f8fc" opacity="0.9"/>
<rect x="56.199999999999996" y="74.10" width="16.50" height="1.9" fill="#4ea6dc"/>
<rect x="59.3" y="74.60" width="9" height="0.8" fill="#f4f8fc" opacity="0.9"/>
<rect x="56.199999999999996" y="76.90" width="16.50" height="1.9" fill="#4ea6dc"/>
<rect x="59.3" y="77.40" width="11" height="0.8" fill="#f4f8fc" opacity="0.9"/>
<rect x="56.199999999999996" y="79.70" width="16.50" height="1.9" fill="#4ea6dc"/>
<rect x="59.3" y="80.20" width="9" height="0.8" fill="#f4f8fc" opacity="0.9"/>
<rect x="56.199999999999996" y="82.50" width="16.50" height="1.9" fill="#4ea6dc"/>
<rect x="59.3" y="83.00" width="11" height="0.8" fill="#f4f8fc" opacity="0.9"/>
<rect x="56.199999999999996" y="85.30" width="16.50" height="1.9" fill="#4ea6dc"/>
<rect x="59.3" y="85.80" width="9" height="0.8" fill="#f4f8fc" opacity="0.9"/>
<rect x="56.199999999999996" y="88.10" width="16.50" height="1.9" fill="#4ea6dc"/>
<rect x="59.3" y="88.60" width="11" height="0.8" fill="#f4f8fc" opacity="0.9"/>
<rect x="56.199999999999996" y="90.90" width="16.50" height="1.9" fill="#4ea6dc"/>
<rect x="59.3" y="91.40" width="9" height="0.8" fill="#f4f8fc" opacity="0.9"/>
<rect x="56.199999999999996" y="93.70" width="16.50" height="1.9" fill="#4ea6dc"/>
<rect x="59.3" y="94.20" width="11" height="0.8" fill="#f4f8fc" opacity="0.9"/>
<rect x="56.199999999999996" y="96.50" width="16.50" height="1.9" fill="#4ea6dc"/>
<rect x="59.3" y="97.00" width="9" height="0.8" fill="#f4f8fc" opacity="0.9"/>
<rect x="56.199999999999996" y="99.30" width="16.50" height="1.9" fill="#4ea6dc"/>
<rect x="59.3" y="99.80" width="11" height="0.8" fill="#f4f8fc" opacity="0.9"/>
<rect x="56.199999999999996" y="102.10" width="16.50" height="1.9" fill="#4ea6dc"/>
<rect x="59.3" y="102.60" width="9" height="0.8" fill="#f4f8fc" opacity="0.9"/>
<rect x="56.199999999999996" y="104.90" width="16.50" height="1.9" fill="#e4e0e4"/>
<rect x="59.3" y="105.40" width="11" height="0.8" fill="#f4f8fc" opacity="0.9"/>
<rect x="56.199999999999996" y="107.70" width="16.50" height="1.9" fill="#e4e0e4"/>
<rect x="59.3" y="108.20" width="9" height="0.8" fill="#f4f8fc" opacity="0.9"/>
<rect x="56.199999999999996" y="110.50" width="16.50" height="1.9" fill="#e4e0e4"/>
<rect x="59.3" y="111.00" width="11" height="0.8" fill="#f4f8fc" opacity="0.9"/>
<rect x="56.199999999999996" y="113.30" width="16.50" height="1.9" fill="#4ea6dc"/>
<rect x="59.3" y="113.80" width="9" height="0.8" fill="#f4f8fc" opacity="0.9"/>
<rect x="56.199999999999996" y="116.10" width="16.50" height="1.9" fill="#4ea6dc"/>
<rect x="59.3" y="116.60" width="11" height="0.8" fill="#f4f8fc" opacity="0.9"/>
<rect x="56.199999999999996" y="118.90" width="16.50" height="1.9" fill="#4ea6dc"/>
<rect x="59.3" y="119.40" width="9" height="0.8" fill="#f4f8fc" opacity="0.9"/>
<rect x="56.199999999999996" y="121.70" width="16.50" height="1.9" fill="#4ea6dc"/>
<rect x="59.3" y="122.20" width="11" height="0.8" fill="#f4f8fc" opacity="0.9"/>
<rect x="56.199999999999996" y="124.50" width="16.50" height="1.9" fill="#4ea6dc"/>
<rect x="59.3" y="125.00" width="9" height="0.8" fill="#f4f8fc" opacity="0.9"/>
<rect x="56.199999999999996" y="127.30" width="16.50" height="1.9" fill="#4ea6dc"/>
<rect x="59.3" y="127.80" width="11" height="0.8" fill="#f4f8fc" opacity="0.9"/>
<rect x="56.199999999999996" y="130.10" width="16.50" height="1.9" fill="#4ea6dc"/>
<rect x="59.3" y="130.60" width="9" height="0.8" fill="#f4f8fc" opacity="0.9"/>
<rect x="56.199999999999996" y="132.90" width="16.50" height="1.9" fill="#4ea6dc"/>
<rect x="59.3" y="133.40" width="11" height="0.8" fill="#f4f8fc" opacity="0.9"/>
<rect x="56.199999999999996" y="135.70" width="16.50" height="1.9" fill="#4ea6dc"/>
<rect x="59.3" y="136.20" width="9" height="0.8" fill="#f4f8fc" opacity="0.9"/>
<rect x="56.199999999999996" y="138.50" width="16.50" height="1.9" fill="#4ea6dc"/>
<rect x="59.3" y="139.00" width="11" height="0.8" fill="#f4f8fc" opacity="0.9"/>
<rect x="56.199999999999996" y="141.30" width="16.50" height="1.9" fill="#4ea6dc"/>
<rect x="59.3" y="141.80" width="9" height="0.8" fill="#f4f8fc" opacity="0.9"/>
<rect x="56.199999999999996" y="144.10" width="16.50" height="-0.10" fill="#a8b8cc"/>
<rect x="38.86" y="129.71" width="12.22" height="4.00" rx="0.8" fill="#e8a070" stroke="#906040" stroke-width="0.6"/>
<rect x="38.92" y="136.35" width="10.74" height="5.40" rx="0.8" fill="#7aa8b8" stroke="#3a5a50" stroke-width="0.6"/>
<rect x="38.92" y="136.35" width="10.74" height="1.8" fill="#d88a60"/>
<rect x="22.75" y="137.73" width="10.80" height="3.97" rx="0.8" fill="#7aa8b8" stroke="#3a5a50" stroke-width="0.6"/>
<rect x="22.75" y="137.73" width="10.80" height="1.8" fill="#d88a60"/>
<path d="M72.55,122.95 H79.22 V151.09 H37.60 V139.05 H38.95" fill="none" stroke="#a04830" stroke-width="0.9"/>
<path d="M33.55,140.44 H38.95" fill="none" stroke="#c09040" stroke-width="0.8"/>
<path d="M51.08,132.30 H52.15 V139.05 H55.00" fill="none" stroke="#3040b0" stroke-width="0.7"/>
<rect x="18" y="113" width="67.2" height="41.6" fill="#b8f0b8" fill-opacity="0.42" stroke="#78a878" stroke-width="0.9"/>
<rect x="2" y="169.3" width="46.6" height="14" fill="#fcf8f5"/><path d="M2.3,183.3 V169.6 H48.3 V183.3" fill="none" stroke="#d8d8d8" stroke-width="0.6"/>
<rect x="5.2" y="171.2" width="8" height="7.8" fill="#f0f6fc" stroke="#5a8ab8" stroke-width="0.7"/><rect x="5.2" y="171.2" width="8" height="1.8" fill="#4a86c0"/>
<path d="M9.2,179.4 l3.6,-3.6 l1,1 l-3.6,3.6 z" fill="#d8a040"/>
<text x="16.80" y="178.60" font-size="6.9" fill="#222" stroke="#222" stroke-width="0.18" text-anchor="start" font-weight="normal" textLength="27.4" lengthAdjust="spacingAndGlyphs" >Properties</text>
<path d="M47,188.5 q3,-2.4 6,0 q1,3 -2,4.5 l-2,3 l0.3,-2.8 q-3,-1.5 -2.3,-4.7 z" fill="#d8eef4" stroke="#2a9ab8" stroke-width="0.9"/>
<path d="M57.20,187.50 h3.2 l0.8,1 h4.6 v5.6 h-8.6 z" fill="#f0d070" stroke="#c8a040" stroke-width="0.4"/><circle cx="62.60" cy="191.90" r="3" fill="#30a8d0"/><circle cx="61.80" cy="191.10" r="1.2" fill="#a0e0f0"/>
<path d="M70.20,187.50 h3.2 l0.8,1 h4.6 v5.6 h-8.6 z" fill="#f0d070" stroke="#c8a040" stroke-width="0.4"/><circle cx="75.60" cy="191.90" r="3" fill="#30a8d0"/><circle cx="74.80" cy="191.10" r="1.2" fill="#a0e0f0"/>
<rect x="82" y="184.6" width="11.4" height="12" fill="#cde3f4"/>
<rect x="83.6" y="186.4" width="3.2" height="8.8" fill="#f4f8fc" stroke="#7aa0c8" stroke-width="0.5"/>
<circle cx="89.6" cy="188.4" r="2" fill="#e8b040"/><circle cx="89.6" cy="193" r="2" fill="#e8b040"/>
<path d="M111,195 l3,-3" stroke="#888" stroke-width="0.8"/><path d="M112.6,190.2 l3.2,-3.2 l2.6,2.6 l-3.2,3.2 z" fill="#d83030"/><circle cx="116.2" cy="188.4" r="1.4" fill="#e85050"/>
<path d="M123.70,187.90 L130.60,194.80" stroke="#a08070" stroke-width="1.5"/><path d="M123.00,187.40 l1.6,-0.4 l0.6,1.4 l-1.4,0.8 z" fill="#9a9aa0"/><path d="M127.40,190.60 L130.80,187.20" stroke="#a0a0a8" stroke-width="1"/><path d="M123.40,195.00 L127.00,191.20" stroke="#2e5e9e" stroke-width="2"/>
<text x="3.00" y="205.00" font-size="6.9" fill="#222" stroke="#222" stroke-width="0.18" text-anchor="start" font-weight="normal" textLength="59.2" lengthAdjust="spacingAndGlyphs" >Add Packet Header ID</text>
<rect x="2" y="206.6" width="131" height="8.6" fill="#d7d7d7"/>
<rect x="2" y="206.6" width="27" height="8.6" fill="#f6eee8"/>
<rect x="2" y="215.2" width="19" height="27.6" fill="#f8f1ec"/>
<rect x="21" y="215.2" width="112" height="27.6" fill="#f5f8fb"/>
<rect x="21" y="224.6" width="55.8" height="8.4" fill="#1c1c7e"/>
<rect x="76.6" y="215.2" width="0.8" height="27.6" fill="#c8c8c8"/>
<rect x="13.3" y="208.3" width="5.4" height="5" rx="0.8" fill="#4aa0d8"/><rect x="14.3" y="210.5" width="3.4" height="0.8" fill="#e8f4fc"/>
<path d="M21.5,210.5 l3,3 l4.5,-5 l-1,4.5 l-3.5,1.6 z" fill="#2a9a3a"/><path d="M21.3,210.6 l2.2,2.4" stroke="#a02020" stroke-width="1"/>
<text x="31.00" y="213.40" font-size="6.9" fill="#333" stroke="#333" stroke-width="0.18" text-anchor="start" font-weight="normal" textLength="40" lengthAdjust="spacingAndGlyphs" >Miscellaneous</text>
<path d="M23.6,223 l5,-5" stroke="#a8a8a8" stroke-width="1.4"/><circle cx="27.8" cy="218.4" r="1.2" fill="#d0d0d0"/>
<text x="31.00" y="222.00" font-size="6.9" fill="#333" stroke="#333" stroke-width="0.18" text-anchor="start" font-weight="normal" textLength="22.2" lengthAdjust="spacingAndGlyphs" >Enabled</text>
<rect x="78.60" y="217.00" width="5.80" height="5.80" fill="#fff" stroke="#333" stroke-width="0.8"/><path d="M79.70,219.90 l1.65,1.85 l2.97,-3.63" fill="none" stroke="#222" stroke-width="0.9"/>
<text x="87.00" y="222.00" font-size="6.9" fill="#333" stroke="#333" stroke-width="0.18" text-anchor="start" font-weight="normal" textLength="13" lengthAdjust="spacingAndGlyphs" >True</text>
<path d="M13,232 l6,-6" stroke="#e8d070" stroke-width="1.4"/><path d="M12.6,232.4 l1.4,-0.4 l-1,-1 z" fill="#888"/>
<text x="22.20" y="231.20" font-size="7" fill="#fff" text-anchor="start" font-weight="normal" >ID</text>
<text x="79.00" y="231.20" font-size="6.9" fill="#b8b8b8" text-anchor="start" font-weight="normal" >0, 0</text>
<rect x="124" y="224.2" width="9.2" height="9" rx="1" fill="#3a8ed8"/><rect x="125.8" y="227.8" width="5.6" height="1.6" fill="#e8f4fc"/>
<text x="22.00" y="240.00" font-size="6.9" fill="#333" stroke="#333" stroke-width="0.18" text-anchor="start" font-weight="normal" textLength="16.4" lengthAdjust="spacingAndGlyphs" >Name</text>
<text x="78.00" y="240.00" font-size="6.8" fill="#111" text-anchor="start" font-weight="bold" textLength="53.4" lengthAdjust="spacingAndGlyphs" >AddPacketHeade...</text>
<text x="140.00" y="361.00" font-size="6.9" fill="#222" stroke="#222" stroke-width="0.18" text-anchor="start" font-weight="normal" textLength="12.2" lengthAdjust="spacingAndGlyphs" >Port:</text>
<rect x="154.90" y="353.10" width="34.60" height="10.80" fill="#fff" stroke="#a8a8a8" stroke-width="1"/><text x="156.90" y="360.90" font-size="7.2" fill="#222" stroke="#222" stroke-width="0.18" text-anchor="start" font-weight="normal" textLength="22" lengthAdjust="spacingAndGlyphs" >COM6 (l</text><path d="M182.20,357.60 l1.8,1.8 l1.8,-1.8" fill="none" stroke="#555" stroke-width="0.7"/>
<text x="193.40" y="361.00" font-size="6.9" fill="#222" stroke="#222" stroke-width="0.18" text-anchor="start" font-weight="normal" textLength="18.6" lengthAdjust="spacingAndGlyphs" >Speed:</text>
<rect x="213.90" y="353.00" width="31.10" height="10.50" fill="#fff" stroke="#a8a8a8" stroke-width="1"/><text x="215.90" y="360.65" font-size="7.2" fill="#222" stroke="#222" stroke-width="0.18" text-anchor="start" font-weight="normal" textLength="14" lengthAdjust="spacingAndGlyphs" >9600</text><path d="M237.70,357.35 l1.8,1.8 l1.8,-1.8" fill="none" stroke="#555" stroke-width="0.7"/>
<text x="249.00" y="361.00" font-size="6.9" fill="#222" stroke="#222" stroke-width="0.18" text-anchor="start" font-weight="normal" textLength="20.6" lengthAdjust="spacingAndGlyphs" >Format:</text>
<rect x="249.4" y="361.6" width="3.4" height="0.5" fill="#222"/>
<rect x="272.50" y="353.00" width="79.50" height="10.50" fill="#e6e6e6" stroke="#b8b8b8" stroke-width="1"/><text x="274.50" y="360.65" font-size="7.2" fill="#222" stroke="#222" stroke-width="0.18" text-anchor="start" font-weight="normal" textLength="48" lengthAdjust="spacingAndGlyphs" >Unformatted Text</text><path d="M344.70,357.35 l1.8,1.8 l1.8,-1.8" fill="none" stroke="#555" stroke-width="0.7"/>
<rect x="356.40" y="355.00" width="6.80" height="6.80" fill="#fff" stroke="#333" stroke-width="0.8"/><path d="M357.50,358.40 l1.90,2.13 l3.42,-4.18" fill="none" stroke="#222" stroke-width="0.9"/>
<text x="364.80" y="361.00" font-size="6.9" fill="#222" stroke="#222" stroke-width="0.18" text-anchor="start" font-weight="normal" textLength="16" lengthAdjust="spacingAndGlyphs" >Reset</text>
<rect x="384.70" y="355.00" width="6.80" height="6.80" fill="#fff" stroke="#333" stroke-width="0.8"/>
<text x="393.00" y="361.00" font-size="6.9" fill="#222" stroke="#222" stroke-width="0.18" text-anchor="start" font-weight="normal" textLength="9.5" lengthAdjust="spacingAndGlyphs" >Log</text>
<rect x="405.6" y="352.4" width="12.2" height="11.8" fill="#cde3f4" stroke="#a8c8e4" stroke-width="0.5"/>
<rect x="407.8" y="354.4" width="7.8" height="7.6" fill="#f4f8fc" stroke="#4a7ab8" stroke-width="0.7"/><rect x="409.4" y="357.4" width="5" height="3" fill="#8ab8e0"/>
<rect x="422" y="352.2" width="49.7" height="12.8" fill="#cccccc" stroke="#c4c4c4" stroke-width="0.5"/>
<path d="M430.5,362.5 l5,-5 l2,1.5 l-4,4 z" fill="#f4f4f4" stroke="#888" stroke-width="0.4"/><path d="M430.5,362.8 h3" stroke="#555" stroke-width="0.6"/>
<text x="441.00" y="361.30" font-size="6.9" fill="#222" stroke="#222" stroke-width="0.18" text-anchor="start" font-weight="normal" textLength="22" lengthAdjust="spacingAndGlyphs" >Connect</text>
<path d="M576.70,354.70 L583.60,361.60" stroke="#a08070" stroke-width="1.5"/><path d="M576.00,354.20 l1.6,-0.4 l0.6,1.4 l-1.4,0.8 z" fill="#9a9aa0"/><path d="M580.40,357.40 L583.80,354.00" stroke="#a0a0a8" stroke-width="1"/><path d="M576.40,361.80 L580.00,358.00" stroke="#2e5e9e" stroke-width="2"/>
<rect x="587.20" y="353.80" width="9.2" height="9.2" rx="1.2" fill="#d85050"/><rect x="588.00" y="354.60" width="7.60" height="7.60" rx="0.8" fill="#e87a7a"/><circle cx="591.80" cy="358.70" r="2.58" fill="#f8d0d0"/><rect x="591.20" y="356.56" width="1.2" height="3.31" fill="#c02828"/>
<rect x="138" y="367.8" width="41.5" height="12" fill="#fdfaf7" stroke="#e4e0dc" stroke-width="0.5"/>
<rect x="179.8" y="368.8" width="33.4" height="11" fill="#edf1f5" stroke="#dde4ea" stroke-width="0.5"/>
<rect x="142.2" y="369.2" width="7.4" height="7" fill="#2c4a2c"/><rect x="143.4" y="372" width="4" height="0.9" fill="#7ad07a"/>
<text x="154.30" y="376.40" font-size="6.9" fill="#222" stroke="#222" stroke-width="0.18" text-anchor="start" font-weight="normal" textLength="22" lengthAdjust="spacingAndGlyphs" >Terminal</text>
<rect x="184" y="370.2" width="7.4" height="7" fill="#3a6aa8"/><rect x="185" y="371.4" width="5.4" height="4.6" fill="#7ab0e0"/><path d="M185.4,374 h4.6" stroke="#fff" stroke-width="0.6"/>
<text x="195.20" y="377.40" font-size="6.9" fill="#222" stroke="#222" stroke-width="0.18" text-anchor="start" font-weight="normal" textLength="16" lengthAdjust="spacingAndGlyphs" >Scope</text>
<rect x="144.00" y="388.60" width="6.60" height="6.60" fill="#fff" stroke="#333" stroke-width="0.8"/><path d="M145.10,391.90 l1.85,2.07 l3.33,-4.07" fill="none" stroke="#222" stroke-width="0.9"/>
<text x="152.20" y="394.40" font-size="6.9" fill="#222" stroke="#222" stroke-width="0.18" text-anchor="start" font-weight="normal" textLength="28" lengthAdjust="spacingAndGlyphs" >Auto Scroll</text>
<rect x="189.80" y="388.60" width="6.60" height="6.60" fill="#fff" stroke="#333" stroke-width="0.8"/>
<text x="197.60" y="394.40" font-size="6.9" fill="#222" stroke="#222" stroke-width="0.18" text-anchor="start" font-weight="normal" textLength="11.4" lengthAdjust="spacingAndGlyphs" >Hold</text>
<rect x="544.2" y="383" width="48.6" height="12.6" fill="#e1e1e1" stroke="#b4b4b4" stroke-width="0.8"/>
<path d="M557,385.5 l3,4" stroke="#a07830" stroke-width="1"/><path d="M558.5,389 l3.5,-1 l2,3.5 q-1.5,2.5 -4,1.6 z" fill="#e8c838"/>
<text x="567.00" y="392.00" font-size="6.9" fill="#222" stroke="#222" stroke-width="0.18" text-anchor="start" font-weight="normal" textLength="14.4" lengthAdjust="spacingAndGlyphs" >Clear</text>
<rect x="587" y="400" width="9" height="114" fill="#f4f4f4"/>
<path d="M589.8,407 l1.8,-1.8 l1.8,1.8" fill="none" stroke="#a8a8a8" stroke-width="0.6"/>
<path d="M589.8,508 l1.8,1.8 l1.8,-1.8" fill="none" stroke="#a8a8a8" stroke-width="0.6"/>
<rect x="507.00" y="522.60" width="7.00" height="7.00" fill="#fff" stroke="#333" stroke-width="0.8"/><path d="M508.10,526.10 l1.95,2.18 l3.51,-4.29" fill="none" stroke="#222" stroke-width="0.9"/>
<text x="516.00" y="528.60" font-size="6.9" fill="#222" stroke="#222" stroke-width="0.18" text-anchor="start" font-weight="normal" textLength="27.4" lengthAdjust="spacingAndGlyphs" >Auto Clear</text>
<rect x="551.8" y="519" width="41" height="13" fill="#cccccc" stroke="#c4c4c4" stroke-width="0.5"/>
<rect x="560" y="523" width="6.6" height="5.6" fill="#f4f4f4" stroke="#888" stroke-width="0.5"/><path d="M561,527 h4" stroke="#555" stroke-width="0.5"/>
<text x="571.00" y="528.60" font-size="6.9" fill="#222" stroke="#222" stroke-width="0.18" text-anchor="start" font-weight="normal" textLength="13.6" lengthAdjust="spacingAndGlyphs" >Send</text>
<path d="M591.6,63 l2,-2 l2,2" fill="none" stroke="#555" stroke-width="0.8"/>
<path d="M591.6,323.4 l2,2 l2,-2" fill="none" stroke="#555" stroke-width="0.8"/>
<path d="M158,332.6 l-2,2 l2,2" fill="none" stroke="#555" stroke-width="0.8"/>
<path d="M583,332.6 l2,2 l-2,2" fill="none" stroke="#555" stroke-width="0.8"/>
<path d="M669.4,46.6 L676.6,53.6 M676.6,46.6 L669.4,53.6" stroke="#c83030" stroke-width="1.8"/>
<rect x="679.4" y="44.6" width="11.4" height="10.4" fill="#cde3f4"/>
<path d="M681.4,53.4 h7.4 l-1.4,-1.6 l-1.6,-5.6 l-1.8,0.6 z" fill="#2a4aa8"/><rect x="683.4" y="49" width="3" height="1" fill="#8ab0f0"/>
<path d="M691.8,48.6 h2.6 l-1.3,1.5 z" fill="#222"/>
<path d="M697,47 h3.4 l0.8,1 h3.8 v5.6 h-8 z" fill="#f0d070" stroke="#c8a040" stroke-width="0.4"/><circle cx="703" cy="52" r="1.6" fill="#f8e8a0" stroke="#b09040" stroke-width="0.4"/>
<path d="M708.80,47.20 h3.2 l0.8,1 h4.6 v5.6 h-8.6 z" fill="#f0d070" stroke="#c8a040" stroke-width="0.4"/><circle cx="714.20" cy="51.60" r="3" fill="#30a8d0"/><circle cx="713.40" cy="50.80" r="1.2" fill="#a0e0f0"/>
<path d="M721.80,47.20 h3.2 l0.8,1 h4.6 v5.6 h-8.6 z" fill="#f0d070" stroke="#c8a040" stroke-width="0.4"/><circle cx="727.20" cy="51.60" r="3" fill="#30a8d0"/><circle cx="726.40" cy="50.80" r="1.2" fill="#a0e0f0"/>
<path d="M735.30,47.30 L742.20,54.20" stroke="#a08070" stroke-width="1.5"/><path d="M734.60,46.80 l1.6,-0.4 l0.6,1.4 l-1.4,0.8 z" fill="#9a9aa0"/><path d="M739.00,50.00 L742.40,46.60" stroke="#a0a0a8" stroke-width="1"/><path d="M735.00,54.40 L738.60,50.60" stroke="#2e5e9e" stroke-width="2"/>
<rect x="603.4" y="60.4" width="119.4" height="44.6" rx="3.2" fill="#fff" stroke="#4c9e4c" stroke-width="1.4"/>
<path d="M604.2,63.4 q0,-2.4 2.4,-2.4 H719.6 q2.4,0 2.4,2.4 V71.6 H604.2 Z" fill="url(#grnhdr)"/>
<rect x="604.2" y="71.4" width="117.8" height="0.7" fill="#70c070"/>
<rect x="606.4" y="63" width="6" height="6" fill="#c0ecd0" opacity="0.8"/><path d="M607,64 l4,4" stroke="#5a8a9a" stroke-width="1"/>
<text x="617.00" y="69.40" font-size="7" fill="#f4fff4" text-anchor="start" font-weight="normal" textLength="42.7" lengthAdjust="spacingAndGlyphs" >Communication</text>
<g><rect x="609.30" y="77.30" width="20.4" height="20.3" rx="2.2" fill="url(#tilebg)" stroke="#444" stroke-width="0.9"/><path d="M612.50,87.30 l7,-2.5 l7,2.5 l-1.5,6 q-5.5,2.5 -11,0 z" fill="#f0b840"/><path d="M612.50,87.30 l7,2.5 l7,-2.5" fill="none" stroke="#c08020" stroke-width="0.6"/><path d="M618.50,86.80 l3,-5 l2,1.2 z" fill="#70c040"/></g>
<g><rect x="634.20" y="77.30" width="20.4" height="20.3" rx="2.2" fill="url(#tilebg)" stroke="#444" stroke-width="0.9"/><path d="M637.40,87.30 l7,-2.5 l7,2.5 l-1.5,6 q-5.5,2.5 -11,0 z" fill="#f0b840"/><path d="M637.40,87.30 l7,2.5 l7,-2.5" fill="none" stroke="#c08020" stroke-width="0.6"/><ellipse cx="645.90" cy="84.80" rx="3.5" ry="2.2" fill="#70c040"/></g>
<g><rect x="658.50" y="77.30" width="20.4" height="20.3" rx="2.2" fill="url(#tilebg)" stroke="#444" stroke-width="0.9"/><path d="M662.70,85.30 l6,-3 l6,3 v6.5 l-6,3 l-6,-3 z" fill="#e86a3a"/><path d="M668.70,88.30 v6.5 M662.70,85.30 l6,3 l6,-3" fill="none" stroke="#f8d0a0" stroke-width="1"/><path d="M665.70,83.80 l6,3" stroke="#f8e060" stroke-width="1.2"/></g>
<g><rect x="683.20" y="77.30" width="20.4" height="20.3" rx="2.2" fill="url(#tilebg)" stroke="#444" stroke-width="0.9"/><path d="M687.40,85.30 l6,-3 l6,3 v6.5 l-6,3 l-6,-3 z" fill="#e86a3a"/><path d="M693.40,88.30 v6.5 M687.40,85.30 l6,3 l6,-3" fill="none" stroke="#f8d0a0" stroke-width="1"/><path d="M690.40,83.80 l6,3" stroke="#f8e060" stroke-width="1.2"/><path d="M696.40,82.30 a4,4 0 0 1 4,5" fill="none" stroke="#3a7ad8" stroke-width="1.6"/></g>
<rect x="603.60" y="109.60" width="69.50" height="69.50" rx="2.6" fill="#fff" stroke="#d0d0d0" stroke-width="1"/><path d="M604.10,112.20 q0,-2.1 2.1,-2.1 H670.50 q2.1,0 2.1,2.1 V120.40 H604.10 Z" fill="url(#grayhdr)"/><rect x="604.10" y="120.20" width="68.50" height="0.6" fill="#d8d8d8"/><circle cx="608.80" cy="115.20" r="2.8" fill="#c8c8d0"/><text x="614.60" y="117.60" font-size="6.9" fill="#fafafa" text-anchor="start" font-weight="normal" >Math</text>
<rect x="609.30" y="126.40" width="45.20" height="45.30" rx="2.6" fill="#fff" stroke="#d0d0d0" stroke-width="1"/><path d="M609.80,129.00 q0,-2.1 2.1,-2.1 H651.90 q2.1,0 2.1,2.1 V137.20 H609.80 Z" fill="url(#grayhdr)"/><rect x="609.80" y="137.00" width="44.20" height="0.6" fill="#d8d8d8"/><circle cx="614.50" cy="132.00" r="2.8" fill="#c8c8d0"/><text x="620.30" y="134.40" font-size="6.9" fill="#fafafa" text-anchor="start" font-weight="normal" >Conversion</text>
<rect x="677.70" y="109.60" width="44.60" height="44.70" rx="2.6" fill="#fff" stroke="#d0d0d0" stroke-width="1"/><path d="M678.20,112.20 q0,-2.1 2.1,-2.1 H719.70 q2.1,0 2.1,2.1 V120.40 H678.20 Z" fill="url(#grayhdr)"/><rect x="678.20" y="120.20" width="43.60" height="0.6" fill="#d8d8d8"/><circle cx="682.90" cy="115.20" r="2.8" fill="#c8c8d0"/><text x="688.70" y="117.60" font-size="6.9" fill="#fafafa" text-anchor="start" font-weight="normal" >Analog</text>
<g opacity="0.14"><rect x="615.40" y="144.30" width="20.4" height="20.3" rx="2.2" fill="url(#tilebg)" stroke="#444" stroke-width="0.9"/><path d="M618.60,154.30 l7,-2.5 l7,2.5 l-1.5,6 q-5.5,2.5 -11,0 z" fill="#f0b840"/><path d="M618.60,154.30 l7,2.5 l7,-2.5" fill="none" stroke="#c08020" stroke-width="0.6"/><ellipse cx="627.10" cy="151.80" rx="3.5" ry="2.2" fill="#70c040"/></g>
<g opacity="0.14"><rect x="683.20" y="126.40" width="20.4" height="20.3" rx="2.2" fill="url(#tilebg)" stroke="#444" stroke-width="0.9"/><path d="M686.40,136.40 l7,-2.5 l7,2.5 l-1.5,6 q-5.5,2.5 -11,0 z" fill="#f0b840"/><path d="M686.40,136.40 l7,2.5 l7,-2.5" fill="none" stroke="#c08020" stroke-width="0.6"/><path d="M692.40,135.90 l3,-5 l2,1.2 z" fill="#70c040"/></g>
<path d="M725.30,528.70 L732.20,535.60" stroke="#a08070" stroke-width="1.5"/><path d="M724.60,528.20 l1.6,-0.4 l0.6,1.4 l-1.4,0.8 z" fill="#9a9aa0"/><path d="M729.00,531.40 L732.40,528.00" stroke="#a0a0a8" stroke-width="1"/><path d="M725.00,535.80 L728.60,532.00" stroke="#2e5e9e" stroke-width="2"/>
<rect x="736.60" y="527.00" width="8.8" height="8.8" rx="1.2" fill="#d85050"/><rect x="737.40" y="527.80" width="7.20" height="7.20" rx="0.8" fill="#e87a7a"/><circle cx="741.00" cy="531.70" r="2.46" fill="#f8d0d0"/><rect x="740.40" y="529.64" width="1.2" height="3.17" fill="#c02828"/>
</svg>
<svg class="a" style="left:0;top:0;pointer-events:none" width="748" height="540" viewBox="0 0 748 540" font-family="Liberation Sans, sans-serif">
<circle cx="9.4" cy="8.6" r="4.6" fill="#f2c21a"/><circle cx="9.4" cy="8.6" r="3.4" fill="#f8d84a"/>
<path d="M7,7.6 l1.2,1.2 M8.2,7.6 l-1.2,1.2 M10.6,7.6 l1.2,1.2 M11.8,7.6 l-1.2,1.2" stroke="#b05010" stroke-width="0.7"/>
<path d="M7.5,10.6 q1.9,1.4 3.8,0" stroke="#b05010" stroke-width="0.6" fill="none"/>
<rect x="680.8" y="8.3" width="6" height="0.8" fill="#fff"/>
<rect x="706.3" y="6.2" width="5.2" height="5.2" fill="none" stroke="#fff" stroke-width="0.8"/>
<path d="M732,6 L737.3,11.3 M737.3,6 L732,11.3" stroke="#fff" stroke-width="0.8"/>
<rect x="4.6" y="31.6" width="8" height="7.4" fill="#f4f8fc" stroke="#8898a8" stroke-width="0.6"/>
<rect x="4.6" y="31.6" width="8" height="1.8" fill="#3c80b4"/>
<rect x="5.2" y="33.4" width="6.8" height="2.4" fill="#d8eefa"/>
<path d="M9.5,38.6 l2.4,-2.4" stroke="#e8c040" stroke-width="1"/>
<path d="M17.8,32 h3 l0.8,1 h0.6 v6 h-4.4 z" fill="#f4d050"/>
<circle cx="23.6" cy="35.8" r="3.2" fill="#3aa830"/><circle cx="23" cy="35" r="1.6" fill="#7cd060"/>
<path d="M29,34.6 h2.8 l-1.4,1.6 z" fill="#222"/>
<rect x="34.4" y="31.4" width="8.2" height="8" rx="0.8" fill="#3a6aa8"/>
<rect x="35.6" y="31.8" width="5.8" height="3.8" fill="#e8f2fa"/>
<rect x="37.6" y="36.4" width="4.6" height="2.8" fill="#30a040"/>
<rect x="53.3" y="29.5" width="26.6" height="11" fill="#cde3f4"/>
<rect x="66.6" y="29.5" width="0.6" height="11" fill="#b0cce4"/>
<path d="M56,39.4 V32 H63.6" fill="none" stroke="#eca43a" stroke-width="2.6"/>
<path d="M56,39.4 V32 H63.6" fill="none" stroke="#f8d890" stroke-width="0.8"/>
<rect x="69.2" y="31.4" width="1.4" height="0.9" fill="#7a8ea0"/>
<rect x="71.8" y="31.4" width="1.4" height="0.9" fill="#7a8ea0"/>
<rect x="74.4" y="31.4" width="1.4" height="0.9" fill="#7a8ea0"/>
<rect x="77.0" y="31.4" width="1.4" height="0.9" fill="#7a8ea0"/>
<rect x="69.2" y="33.6" width="1.4" height="0.9" fill="#7a8ea0"/>
<rect x="71.8" y="33.6" width="1.4" height="0.9" fill="#7a8ea0"/>
<rect x="74.4" y="33.6" width="1.4" height="0.9" fill="#7a8ea0"/>
<rect x="77.0" y="33.6" width="1.4" height="0.9" fill="#7a8ea0"/>
<rect x="69.2" y="35.8" width="1.4" height="0.9" fill="#7a8ea0"/>
<rect x="71.8" y="35.8" width="1.4" height="0.9" fill="#7a8ea0"/>
<rect x="74.4" y="35.8" width="1.4" height="0.9" fill="#7a8ea0"/>
<rect x="77.0" y="35.8" width="1.4" height="0.9" fill="#7a8ea0"/>
<rect x="69.2" y="38.0" width="1.4" height="0.9" fill="#7a8ea0"/>
<rect x="71.8" y="38.0" width="1.4" height="0.9" fill="#7a8ea0"/>
<rect x="74.4" y="38.0" width="1.4" height="0.9" fill="#7a8ea0"/>
<rect x="77.0" y="38.0" width="1.4" height="0.9" fill="#7a8ea0"/>
<path d="M86.2,36.2 A4.2,4.2 0 1 1 92.2,39.8" fill="none" stroke="#3472c4" stroke-width="1.8"/>
<path d="M84.4,33.4 L88.6,33.4 L85.2,37.4 Z" fill="#3472c4"/>
<path d="M95.8,34.8 h2.8 l-1.4,1.6 z" fill="#222"/>
<path d="M111,36.2 A4.2,4.2 0 1 0 105,39.8" fill="none" stroke="#a0a0a0" stroke-width="1.8"/>
<path d="M112.8,33.4 L108.6,33.4 L112,37.4 Z" fill="#a0a0a0"/>
<path d="M115.6,35 h2.6 l-1.3,1.4 z" fill="#a8a8a8"/>
<path d="M177.4,34.6 l1.8,1.8 l1.8,-1.8" fill="none" stroke="#555" stroke-width="0.7"/>
<circle cx="191.6" cy="34.2" r="3" fill="#c8ecd0" stroke="#5aa05a" stroke-width="1.1"/><path d="M193.6,36.4 l3.4,3.4" stroke="#707070" stroke-width="1.4"/>
<path d="M188,39.3 h4.4 M190.2,37.1 v4.4" stroke="#3aa020" stroke-width="1.3"/>
<circle cx="205.0" cy="34.2" r="3" fill="#c8dcf0" stroke="#4a6ab0" stroke-width="1.1"/><path d="M207.0,36.4 l3.4,3.4" stroke="#707070" stroke-width="1.4"/>
<rect x="200.6" y="38.2" width="4.6" height="1.6" fill="#2a3a9a"/>
<circle cx="217.6" cy="34.2" r="3" fill="#e0e0e0" stroke="#a8a8a8" stroke-width="1.1"/><path d="M219.6,36.4 l3.4,3.4" stroke="#707070" stroke-width="1.4"/>
<path d="M232.5,33.5 q4,-3 8,0" fill="none" stroke="#c84870" stroke-width="1.8"/>
<path d="M232.5,38 q4,3 8,0" fill="none" stroke="#c84870" stroke-width="1.8"/>
<circle cx="233" cy="36" r="1.6" fill="#70b8b0"/>
<path d="M248.4,31.8 L256,39.6 M256,31.8 L248.4,39.6" stroke="#c42a2a" stroke-width="1.4"/>
<circle cx="288" cy="35.6" r="4.5" fill="#2aa8a0"/><circle cx="286.6" cy="37" r="2.6" fill="#e87868"/><circle cx="289.4" cy="34" r="1.4" fill="#80d8d0"/>
<rect x="300" y="31.2" width="8.4" height="8.4" fill="#285a78"/><circle cx="304.2" cy="37" r="2.6" fill="#f0a0a0"/><rect x="301.4" y="31.8" width="5.6" height="1.6" fill="#6aa0c0"/>
</svg>
<!-- window borders -->
<div class="a" style="left:0;top:16.4px;width:1px;height:25.6px;background:#9aaebf"></div>
<div class="a" style="left:0;top:168px;width:1px;height:372px;background:#9aaebf"></div>
<div class="a" style="left:1px;top:28px;width:1px;height:14px;background:#eef8fc"></div>
<div class="a" style="left:1px;top:168px;width:1px;height:369px;background:#eef8fc"></div>
<div class="a" style="left:746px;top:16.4px;width:1px;height:523.6px;background:#e8f4fa"></div>
<div class="a" style="left:747px;top:16.4px;width:1px;height:523.6px;background:#8ea4b8"></div>
<div class="a" style="left:0;top:536.8px;width:748px;height:2px;background:#e4f2fa"></div>
<div class="a" style="left:0;top:538.8px;width:748px;height:1.2px;background:#8ea4b8"></div>

</body></html>
